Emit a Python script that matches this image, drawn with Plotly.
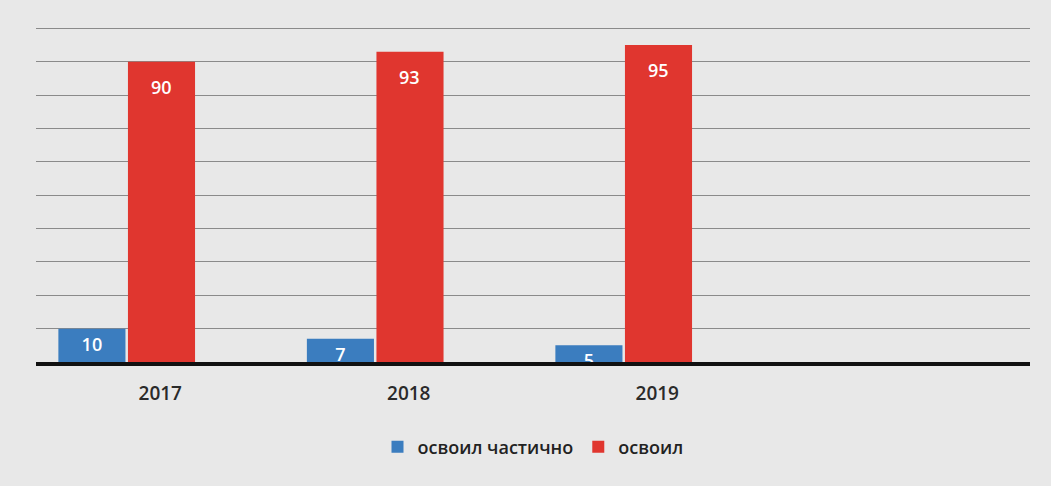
import plotly.graph_objects as go

years = ["2017", "2018", "2019"]
partial = [10, 7, 5]
mastered = [90, 93, 95]
series_names = ["освоил частично", "освоил"]

blue = "#3b7dbf"
red = "#e0362f"
bg = "#e8e8e8"
font_family = "Open Sans, Lato, DejaVu Sans, sans-serif"

x_pos = list(range(len(years)))
bar_w = 0.27
off_blue = -0.41
off_red = -0.13

fig = go.Figure()
fig.add_trace(go.Bar(
    x=x_pos, y=partial, name=series_names[0],
    marker=dict(color=blue, line=dict(width=0)),
    width=bar_w, offset=off_blue,
    text=[str(v) for v in partial], textposition="inside", insidetextanchor="end",
    constraintext="none", textangle=0,
    textfont=dict(color="white", size=18, family=font_family, weight=600),
))
fig.add_trace(go.Bar(
    x=x_pos, y=mastered, name=series_names[1],
    marker=dict(color=red, line=dict(width=0)),
    width=bar_w, offset=off_red,
))

for xi, v in zip(x_pos, mastered):
    fig.add_annotation(
        x=xi + off_red + bar_w / 2, y=v, xref="x", yref="y",
        text=str(v), showarrow=False, yanchor="middle", yshift=-25,
        font=dict(color="white", size=18, family=font_family, weight=600),
    )

fig.update_layout(
    width=1051, height=486,
    margin=dict(l=36, r=21, t=0, b=124),
    paper_bgcolor=bg, plot_bgcolor=bg,
    barmode="overlay",
    showlegend=True,
    legend=dict(orientation="h", x=0.5, xanchor="center", y=-0.235, yanchor="middle",
                font=dict(size=18, color="#222", family=font_family, weight=600),
                bgcolor="rgba(0,0,0,0)", traceorder="normal", itemwidth=30),
    font=dict(family=font_family),
)
fig.update_xaxes(
    range=[-0.5, 3.5], tickmode="array", tickvals=x_pos, ticktext=years,
    showgrid=False, zeroline=False,
    showline=True, linecolor="#111", linewidth=4,
    ticks="", tickfont=dict(size=19, color="#2a2a2a", family=font_family, weight=600),
    ticklabelstandoff=11,
)
fig.update_yaxes(
    range=[0, 108.5], dtick=10, showticklabels=False,
    showgrid=True, gridcolor="#8a8a8a", gridwidth=1,
    zeroline=False, showline=False, ticks="",
)

fig.write_html("out.html", config={"displayModeBar": False},
               post_script="document.body.style.margin='0';")
